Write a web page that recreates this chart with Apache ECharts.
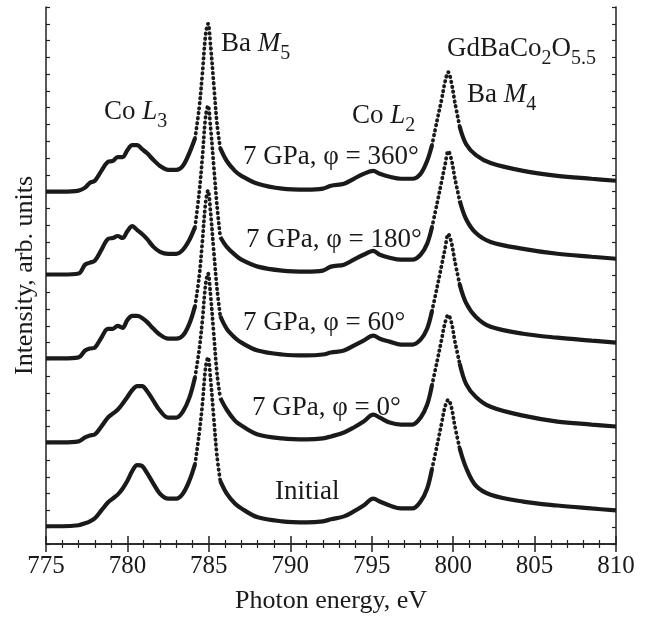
<!DOCTYPE html>
<html>
<head>
<meta charset="utf-8">
<script src="https://cdn.jsdelivr.net/npm/echarts@6/dist/echarts.min.js"></script>
<style>
html, body { margin: 0; padding: 0; background: #fff; }
#chart { width: 648px; height: 619px; }
</style>
</head>
<body>
<div id="chart"></div>
<script>
// photon energy grid, eV
var energy = [775, 776, 777, 777.4, 777.7, 778.0, 778.4, 778.8, 779.1, 779.4, 779.7, 780.0, 780.3, 780.6, 780.9,
	781.2, 781.6, 782.0, 782.5, 783.0, 783.4, 783.8, 784.15, 784.4, 784.6, 784.8, 784.95, 785.1, 785.3, 785.5,
	785.7, 786.1, 786.6, 787.0, 788.0, 789.5, 791.0, 792.0, 792.5, 793.3, 793.9, 794.5, 795.1, 795.5, 796.1,
	796.8, 797.5, 798.0, 798.4, 798.7, 799.0, 799.3, 799.5, 799.7, 799.9, 800.1, 800.4, 800.8, 801.4, 802.3,
	804.3, 806.4, 808.5, 810];

// intensities, arb. units, curves already shifted for stacking
var phi360 = [357, 357, 358, 361, 366, 368, 378, 387, 388, 392, 392, 399, 404, 404, 400, 396, 389, 383, 379, 379,
	383, 396, 411, 441, 476, 516, 527, 506, 466, 426, 401, 388, 378, 373, 365, 360, 359, 360, 363, 365, 370, 375,
	378, 375, 372, 370, 370, 375, 388, 404, 428, 451, 468, 478, 467, 448, 423, 405, 394, 386, 378, 373, 370, 368];
var phi180 = [273, 273, 274, 283, 285, 287, 298, 309, 310, 312, 310, 317, 322, 318, 314, 309, 301, 296, 294, 294,
	298, 308, 321, 355, 391, 433, 444, 423, 383, 343, 311, 301, 293, 288, 281, 277, 276, 277, 281, 283, 288, 293,
	297, 293, 290, 288, 288, 293, 304, 321, 344, 368, 384, 398, 389, 371, 348, 329, 315, 306, 299, 294, 291, 289];
var phi60 = [188, 188, 189, 196, 198, 199, 209, 218, 218, 221, 219, 227, 231, 231, 229, 225, 218, 212, 208, 208,
	211, 223, 241, 270, 306, 346, 358, 337, 297, 259, 231, 218, 209, 204, 196, 192, 191, 192, 194, 196, 201, 206,
	211, 208, 205, 202, 202, 207, 218, 236, 259, 283, 299, 314, 305, 287, 263, 244, 230, 220, 213, 209, 206, 204];
var phi0 = [103, 103, 104, 108, 110, 111, 119, 128, 132, 136, 142, 149, 156, 160, 160, 155, 145, 135, 128, 128,
	134, 148, 169, 196, 226, 263, 274, 253, 213, 173, 148, 136, 125, 120, 111, 107, 106, 107, 109, 113, 118, 124,
	131, 128, 123, 121, 121, 128, 141, 161, 184, 208, 224, 232, 224, 206, 183, 162, 149, 139, 130, 124, 121, 119];
var initial = [18, 18, 19, 21, 23, 26, 34, 42, 46, 50, 56, 64, 74, 80, 79, 72, 61, 51, 46, 46, 51, 64, 81, 111,
	141, 179, 189, 168, 128, 89, 64, 51, 41, 36, 27, 23, 22, 23, 25, 28, 33, 39, 46, 43, 39, 36, 36, 43, 56, 76,
	99, 123, 139, 146, 138, 120, 97, 77, 59, 50, 43, 39, 36, 34];

var xTicks = [775, 780, 785, 790, 795, 800, 805, 810];

// steep Ba peaks are drawn as loose dots, like the sparse points in the original
var peakRanges = [[784.15, 785.7], [798.7, 800.4]];

var serif = 'Liberation Serif';
var ink = '#1a1a1a';

function inside(e, strict) {
	for (var k = 0; k < peakRanges.length; k++) {
		var r = peakRanges[k];
		if (strict ? (e > r[0] && e < r[1]) : (e >= r[0] && e <= r[1])) return true;
	}
	return false;
}

function solidPart(vals) {
	return energy.map(function(e, i) {
		return inside(e, true) ? [e, '-'] : [e, vals[i]];
	});
}

function dotPart(vals) {
	return energy.map(function(e, i) {
		return inside(e, false) ? [e, vals[i]] : [e, '-'];
	});
}

var curves = [phi360, phi180, phi60, phi0, initial];
var series = [];
curves.forEach(function(vals) {
	series.push({
		type: 'line', data: solidPart(vals), smooth: 0.35, showSymbol: false, silent: true,
		lineStyle: { color: ink, width: 4.2 }
	});
	series.push({
		type: 'line', data: dotPart(vals), smooth: 0.35, showSymbol: false, silent: true,
		lineStyle: { color: ink, width: 3.8, type: [0.5, 4.5], cap: 'round' }
	});
});

var sub = { fontFamily: serif, fontSize: 20, color: ink, verticalAlign: 'bottom' };
var norm = { fontFamily: serif, fontSize: 27, color: ink, verticalAlign: 'bottom', padding: [0, 0, 7, 0] };
var ital = { fontFamily: serif, fontSize: 27, fontStyle: 'italic', color: ink, verticalAlign: 'bottom', padding: [0, 0, 7, 0] };

function label(x, y, text) {
	return {
		type: 'text', silent: true,
		style: {
			x: x, y: y, text: text, verticalAlign: 'middle',
			fontFamily: serif, fontSize: 27, fill: ink,
			rich: { n: norm, i: ital, s: sub }
		}
	};
}

var axisLineStyle = { color: '#222', width: 1.5 };

var chart = echarts.init(document.getElementById('chart'));
chart.setOption({
	animation: false,
	grid: { left: 46, right: 32, top: 7, bottom: 68 },
	xAxis: [{
		type: 'value', min: xTicks[0], max: xTicks[xTicks.length - 1], interval: 5,
		name: 'Photon energy, eV', nameLocation: 'middle', nameGap: 44,
		nameTextStyle: { fontFamily: serif, fontSize: 26, color: ink },
		axisLine: { show: true, lineStyle: axisLineStyle },
		axisTick: { show: true, inside: true, length: 8, lineStyle: axisLineStyle },
		minorTick: { show: true, splitNumber: 5, length: 4, lineStyle: { color: '#222', width: 1.2 } },
		axisLabel: { fontFamily: serif, fontSize: 25, color: ink, margin: 10 },
		splitLine: { show: false }
	}, {
		type: 'value', position: 'top', min: xTicks[0], max: xTicks[xTicks.length - 1], interval: 5,
		axisLine: { show: true, lineStyle: axisLineStyle },
		axisTick: { show: true, inside: true, length: 8, lineStyle: axisLineStyle },
		minorTick: { show: true, splitNumber: 5, length: 4, lineStyle: { color: '#222', width: 1.2 } },
		axisLabel: { show: false },
		splitLine: { show: false }
	}],
	yAxis: [{
		type: 'value', min: 0, max: 544, interval: 17,
		name: 'Intensity, arb. units', nameLocation: 'middle', nameGap: 8, nameRotate: 90,
		nameTextStyle: { fontFamily: serif, fontSize: 26, color: ink },
		axisLine: { show: true, lineStyle: axisLineStyle },
		axisTick: { show: true, inside: true, length: 4, lineStyle: { color: '#222', width: 1.2 } },
		axisLabel: { show: false },
		splitLine: { show: false }
	}, {
		type: 'value', position: 'right', min: 0, max: 544, interval: 17,
		axisLine: { show: true, lineStyle: axisLineStyle },
		axisTick: { show: true, inside: true, length: 4, lineStyle: { color: '#222', width: 1.2 } },
		axisLabel: { show: false },
		splitLine: { show: false }
	}],
	series: series,
	graphic: [
		label(104, 115, '{n|Co }{i|L}{s|3}'),
		label(221, 47, '{n|Ba }{i|M}{s|5}'),
		label(352, 119, '{n|Co }{i|L}{s|2}'),
		label(447, 52, '{n|GdBaCo}{s|2}{n|O}{s|5.5}'),
		label(467, 98, '{n|Ba }{i|M}{s|4}'),
		label(243, 157, '7 GPa, φ = 360°'),
		label(246, 240, '7 GPa, φ = 180°'),
		label(243, 323, '7 GPa, φ = 60°'),
		label(252, 408, '7 GPa, φ = 0°'),
		label(275, 492, 'Initial')
	]
});
</script>
</body>
</html>
